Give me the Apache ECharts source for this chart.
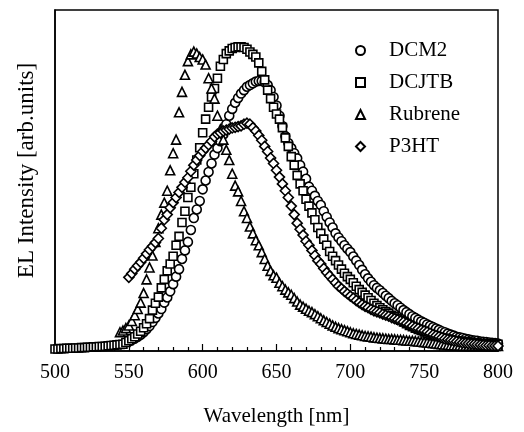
<!DOCTYPE html>
<html>
<head>
<meta charset="utf-8">
<script src="https://cdn.jsdelivr.net/npm/echarts@6/dist/echarts.min.js"></script>
<style>
	html, body { margin: 0; padding: 0; background: #fff; }
	#chart { width: 524px; height: 432px; }
</style>
</head>
<body>
<div id="chart"></div>
<script>
// 波长 (nm), 每 2 nm 一个点
var wavelengths = [
	500, 502, 504, 506, 508, 510, 512, 514, 516, 518,
	520, 522, 524, 526, 528, 530, 532, 534, 536, 538,
	540, 542, 544, 546, 548, 550, 552, 554, 556, 558,
	560, 562, 564, 566, 568, 570, 572, 574, 576, 578,
	580, 582, 584, 586, 588, 590, 592, 594, 596, 598,
	600, 602, 604, 606, 608, 610, 612, 614, 616, 618,
	620, 622, 624, 626, 628, 630, 632, 634, 636, 638,
	640, 642, 644, 646, 648, 650, 652, 654, 656, 658,
	660, 662, 664, 666, 668, 670, 672, 674, 676, 678,
	680, 682, 684, 686, 688, 690, 692, 694, 696, 698,
	700, 702, 704, 706, 708, 710, 712, 714, 716, 718,
	720, 722, 724, 726, 728, 730, 732, 734, 736, 738,
	740, 742, 744, 746, 748, 750, 752, 754, 756, 758,
	760, 762, 764, 766, 768, 770, 772, 774, 776, 778,
	780, 782, 784, 786, 788, 790, 792, 794, 796, 798,
	800
];
var xTicks = [500, 550, 600, 650, 700, 750, 800];

// DCM2, 从 550 nm 开始
var dcm2Start = 550;
var dcm2 = [
	0.028, 0.032, 0.037, 0.042, 0.048, 0.055, 0.064, 0.073, 0.085, 0.097,
	0.110, 0.123, 0.142, 0.157, 0.175, 0.196, 0.218, 0.240, 0.270, 0.295,
	0.320, 0.355, 0.390, 0.415, 0.440, 0.474, 0.500, 0.525, 0.550, 0.576,
	0.595, 0.615, 0.635, 0.665, 0.690, 0.710, 0.728, 0.742, 0.755, 0.765,
	0.775, 0.780, 0.785, 0.790, 0.792, 0.792, 0.788, 0.780, 0.765, 0.745,
	0.720, 0.690, 0.660, 0.630, 0.610, 0.595, 0.580, 0.565, 0.545, 0.526,
	0.505, 0.482, 0.470, 0.455, 0.440, 0.428, 0.410, 0.393, 0.377, 0.362,
	0.345, 0.333, 0.322, 0.310, 0.300, 0.290, 0.277, 0.265, 0.252, 0.238,
	0.225, 0.213, 0.203, 0.193, 0.185, 0.178, 0.170, 0.162, 0.155, 0.147,
	0.140, 0.134, 0.127, 0.120, 0.114, 0.108, 0.102, 0.097, 0.092, 0.087,
	0.083, 0.078, 0.074, 0.070, 0.066, 0.062, 0.058, 0.055, 0.051, 0.048,
	0.045, 0.042, 0.040, 0.038, 0.036, 0.034, 0.032, 0.031, 0.030, 0.028,
	0.027, 0.026, 0.025, 0.024, 0.023, 0.022
];

// DCJTB, 从 500 nm 开始
var dcjtbStart = 500;
var dcjtb = [
	0.006, 0.006, 0.007, 0.007, 0.008, 0.008, 0.008, 0.009, 0.009, 0.010,
	0.010, 0.011, 0.011, 0.012, 0.012, 0.013, 0.013, 0.014, 0.015, 0.016,
	0.017, 0.018, 0.019, 0.020, 0.025, 0.030, 0.036, 0.042, 0.050, 0.058,
	0.068, 0.080, 0.095, 0.120, 0.140, 0.158, 0.185, 0.210, 0.235, 0.255,
	0.278, 0.310, 0.336, 0.377, 0.410, 0.450, 0.480, 0.520, 0.560, 0.596,
	0.640, 0.680, 0.715, 0.745, 0.770, 0.800, 0.835, 0.855, 0.872, 0.880,
	0.887, 0.890, 0.892, 0.892, 0.890, 0.885, 0.877, 0.870, 0.862, 0.845,
	0.820, 0.795, 0.765, 0.740, 0.715, 0.695, 0.680, 0.655, 0.625, 0.600,
	0.570, 0.545, 0.515, 0.490, 0.470, 0.445, 0.425, 0.405, 0.385, 0.362,
	0.345, 0.328, 0.310, 0.292, 0.278, 0.265, 0.252, 0.240, 0.228, 0.218,
	0.210, 0.200, 0.190, 0.180, 0.172, 0.164, 0.156, 0.148, 0.140, 0.133,
	0.127, 0.121, 0.116, 0.111, 0.105, 0.100, 0.095, 0.090, 0.085, 0.080,
	0.075, 0.071, 0.067, 0.063, 0.060, 0.056, 0.052, 0.048, 0.045, 0.043,
	0.041, 0.039, 0.037, 0.035, 0.033, 0.031, 0.030, 0.029, 0.028, 0.027,
	0.026, 0.025, 0.024, 0.023, 0.022, 0.021, 0.021, 0.020, 0.020, 0.020,
	0.020
];

// Rubrene, 从 544 nm 开始
var rubreneStart = 544;
var rubrene = [
	0.055, 0.060, 0.067, 0.075, 0.088, 0.105, 0.123, 0.142, 0.170, 0.210,
	0.245, 0.280, 0.320, 0.360, 0.400, 0.435, 0.470, 0.530, 0.580, 0.620,
	0.700, 0.760, 0.810, 0.850, 0.870, 0.878, 0.872, 0.862, 0.855, 0.840,
	0.800, 0.770, 0.740, 0.690, 0.650, 0.620, 0.590, 0.560, 0.520, 0.485,
	0.468, 0.440, 0.410, 0.390, 0.365, 0.345, 0.325, 0.310, 0.290, 0.270,
	0.250, 0.235, 0.222, 0.215, 0.200, 0.190, 0.180, 0.172, 0.165, 0.155,
	0.145, 0.136, 0.130, 0.124, 0.118, 0.114, 0.108, 0.102, 0.096, 0.090,
	0.085, 0.080, 0.075, 0.071, 0.067, 0.064, 0.061, 0.058, 0.055, 0.052,
	0.050, 0.048, 0.046, 0.044, 0.043, 0.042, 0.040, 0.039, 0.038, 0.037,
	0.036, 0.035, 0.035, 0.034, 0.033, 0.033, 0.032, 0.031, 0.030, 0.030,
	0.029, 0.028, 0.027, 0.026, 0.025, 0.024, 0.023, 0.022, 0.021, 0.020,
	0.019, 0.018, 0.017, 0.017, 0.016, 0.016, 0.015, 0.015, 0.015, 0.015,
	0.015, 0.015, 0.015, 0.015, 0.015, 0.015, 0.015, 0.015, 0.015
];

// P3HT, 从 550 nm 开始
var p3htStart = 550;
var p3ht = [
	0.216, 0.227, 0.240, 0.250, 0.260, 0.272, 0.285, 0.297, 0.307, 0.318,
	0.330, 0.360, 0.385, 0.400, 0.420, 0.435, 0.450, 0.465, 0.480, 0.495,
	0.508, 0.527, 0.545, 0.560, 0.573, 0.585, 0.595, 0.605, 0.615, 0.628,
	0.636, 0.640, 0.645, 0.648, 0.651, 0.654, 0.656, 0.658, 0.660, 0.665,
	0.668, 0.665, 0.655, 0.645, 0.632, 0.618, 0.600, 0.585, 0.566, 0.550,
	0.530, 0.510, 0.490, 0.470, 0.450, 0.425, 0.400, 0.375, 0.357, 0.340,
	0.322, 0.310, 0.295, 0.280, 0.265, 0.255, 0.242, 0.230, 0.220, 0.210,
	0.200, 0.190, 0.183, 0.175, 0.168, 0.161, 0.155, 0.148, 0.142, 0.136,
	0.131, 0.127, 0.122, 0.118, 0.115, 0.112, 0.108, 0.105, 0.102, 0.098,
	0.095, 0.092, 0.088, 0.085, 0.081, 0.077, 0.073, 0.069, 0.066, 0.062,
	0.059, 0.056, 0.052, 0.048, 0.045, 0.042, 0.039, 0.036, 0.034, 0.032,
	0.030, 0.028, 0.026, 0.024, 0.023, 0.022, 0.021, 0.020, 0.019, 0.018,
	0.017, 0.016, 0.016, 0.015, 0.015, 0.015
];

var seriesNames = ['DCM2', 'DCJTB', 'Rubrene', 'P3HT'];

var fontFamily = 'Liberation Serif';

/**
 * 把数值与波长配成 [x, y]
 * @param values 数值数组
 * @param start 起始波长
 */
function toPairs(values, start) {
	var off = wavelengths.indexOf(start), out = [];
	for (var i = 0, len = values.length; i < len; i ++) {
		out.push([wavelengths[off + i], values[i]]);
	}
	return out;
}

function markerSeries(name, symbol, size, data) {
	return {
		name: name,
		type: 'scatter',
		symbol: symbol,
		symbolSize: size,
		itemStyle: {
			color: '#ffffff',
			borderColor: '#000000',
			borderWidth: 1.6,
			opacity: 1
		},
		emphasis: { disabled: true },
		data: data
	};
}

var chart = echarts.init(document.getElementById('chart'), null, { renderer: 'canvas' });

var option = {
	animation: false,
	backgroundColor: '#ffffff',
	grid: {
		left: 55,
		right: 26,
		top: 10,
		bottom: 80,
		show: true,
		borderColor: '#000000',
		borderWidth: 1.5,
		backgroundColor: 'transparent'
	},
	legend: {
		orient: 'vertical',
		left: 350,
		top: 35,
		itemWidth: 9,
		itemHeight: 9,
		itemGap: 11,
		selectedMode: false,
		textStyle: {
			fontFamily: fontFamily,
			fontSize: 21,
			color: '#000000',
			padding: [0, 0, 0, 19]
		},
		data: seriesNames
	},
	xAxis: {
		type: 'value',
		min: xTicks[0],
		max: xTicks[xTicks.length - 1],
		interval: 50,
		name: 'Wavelength [nm]',
		nameLocation: 'middle',
		nameGap: 55,
		nameTextStyle: {
			fontFamily: fontFamily,
			fontSize: 21,
			color: '#000000'
		},
		axisLine: { show: true, lineStyle: { color: '#000000', width: 1.5 } },
		axisTick: { show: true, inside: true, length: 7, lineStyle: { color: '#000000', width: 1.2 } },
		minorTick: { show: true, splitNumber: 5, length: 4, lineStyle: { color: '#000000', width: 1.2 } },
		axisLabel: {
			margin: 12,
			fontFamily: fontFamily,
			fontSize: 20,
			color: '#000000'
		},
		splitLine: { show: false }
	},
	yAxis: {
		type: 'value',
		min: 0,
		max: 1,
		name: 'EL Intensity [arb.units]',
		nameLocation: 'middle',
		nameGap: 17,
		nameTextStyle: {
			fontFamily: fontFamily,
			fontSize: 23,
			color: '#000000',
			padding: [0, 0, 0, 20]
		},
		axisLine: { show: true, lineStyle: { color: '#000000', width: 1.5 } },
		axisTick: { show: false },
		axisLabel: { show: false },
		splitLine: { show: false }
	},
	series: [
		markerSeries('DCM2', 'circle', 9, toPairs(dcm2, dcm2Start)),
		markerSeries('DCJTB', 'rect', 8, toPairs(dcjtb, dcjtbStart)),
		markerSeries('Rubrene', 'triangle', 9, toPairs(rubrene, rubreneStart)),
		markerSeries('P3HT', 'diamond', 10, toPairs(p3ht, p3htStart))
	]
};

chart.setOption(option);
</script>
</body>
</html>
